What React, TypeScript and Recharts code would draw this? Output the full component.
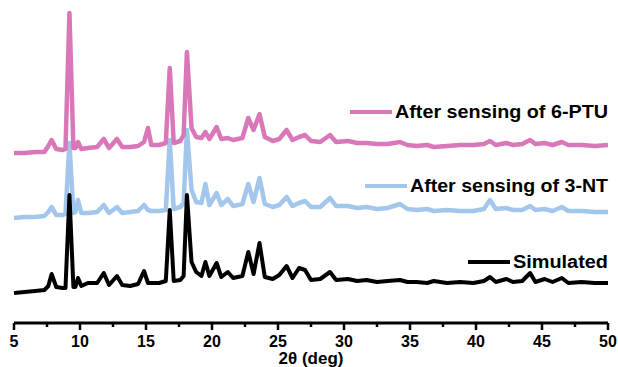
import { Line, LineChart, XAxis, YAxis } from "recharts";

// 2θ positions (deg) shared by all three patterns
const theta = [
  5.0, 5.8, 6.6, 7.3, 7.6, 7.85, 8.2, 8.7, 8.9, 9.2, 9.5, 9.65, 9.85, 10.1, 10.6, 11.3, 11.8, 12.2,
  12.8, 13.2, 13.8, 14.4, 14.85, 15.15, 15.4, 16.0, 16.5, 16.8, 17.1, 17.6, 17.85, 18.1, 18.45, 18.8,
  19.2, 19.5, 19.8, 20.35, 20.7, 21.2, 21.6, 22.3, 22.75, 23.15, 23.6, 24.0, 24.6, 25.1, 25.65, 26.1,
  26.6, 27.05, 27.5, 28.2, 28.94, 29.4, 30.3, 31.0, 31.7, 32.5, 33.3, 34.24, 34.8, 35.5, 36.3, 36.8,
  37.8, 38.8, 39.8, 40.6, 41.06, 41.5, 42.3, 42.8, 43.5, 44.1, 44.5, 45.2, 45.8, 46.5, 47.0, 48.0,
  49.0, 50.0,
];

// intensities (a.u., stacked offsets included)
const afterPtu = [
  170, 170, 171, 171, 177, 183, 174, 173, 174, 310, 175, 175, 181, 174, 175, 176, 184, 175,
  184, 176, 176, 177, 181, 195, 178, 178, 180, 255, 180, 182, 188, 271, 195, 186,
  185, 191, 184, 196, 184, 185, 183, 185, 205, 193, 209, 186, 182, 184, 193, 183,
  186, 188, 182, 181, 188, 181, 182, 180, 180, 179, 179, 181, 178, 177, 178, 176,
  177, 178, 178, 179, 182, 178, 180, 178, 179, 183, 179, 180, 178, 181, 178, 178,
  177, 178,
];

const afterNt = [
  105, 106, 106, 107, 111, 116, 108, 108, 109, 180, 110, 111, 123, 110, 110, 111, 118, 110,
  116, 110, 111, 112, 118, 113, 112, 112, 113, 183, 114, 116, 120, 193, 133, 121,
  120, 139, 118, 130, 118, 124, 117, 119, 139, 121, 145, 119, 116, 118, 126, 117,
  120, 122, 116, 116, 125, 117, 117, 115, 116, 114, 115, 119, 114, 113, 114, 112,
  113, 112, 112, 114, 123, 114, 115, 113, 113, 117, 113, 114, 112, 116, 112, 112,
  111, 111,
];

const simulated = [
  30, 31, 32, 33, 37, 49, 36, 35, 35, 128, 36, 36, 45, 37, 40, 40, 50, 38,
  47, 38, 37, 39, 52, 40, 40, 40, 42, 113, 42, 43, 47, 128, 61, 51,
  47, 61, 47, 60, 46, 51, 45, 47, 71, 49, 80, 46, 44, 48, 57, 45,
  55, 53, 43, 44, 51, 43, 44, 42, 43, 41, 42, 43, 41, 41, 40, 42,
  40, 41, 40, 42, 46, 41, 44, 41, 42, 50, 41, 44, 41, 45, 40, 41,
  40, 40,
];

const tickValues = [5, 7.5, 10, 12.5, 15, 17.5, 20, 22.5, 25, 27.5, 30, 32.5, 35, 37.5, 40, 42.5, 45, 47.5, 50];

const PINK = "#d977b8";
const BLUE = "#a3c6ec";
const BLACK = "#000000";
const FONT = "'Liberation Sans', Arial, sans-serif";

const data = theta.map((t, i) => ({
  theta: t,
  ptu: afterPtu[i],
  nt: afterNt[i],
  sim: simulated[i],
}));

// minor ticks are shorter and unlabeled
const AxisTick = (props: any) => {
  const { x, y, payload } = props;
  const major = payload.value % 5 === 0;
  return (
    <g>
      <line x1={x} x2={x} y1={y} y2={y + (major ? 7 : 4)} stroke={BLACK} strokeWidth={2.5} />
      {major && (
        <text x={x} y={y + 24} textAnchor="middle" fontSize={16} fontWeight="bold" fontFamily={FONT} fill={BLACK}>
          {payload.value}
        </text>
      )}
    </g>
  );
};

const legendItems = [
  { label: "After sensing of 6-PTU", color: PINK, lineX: 350, textX: 395, width: 213, y: 112 },
  { label: "After sensing of 3-NT", color: BLUE, lineX: 365, textX: 410, width: 198, y: 186 },
  { label: "Simulated", color: BLACK, lineX: 468, textX: 513, width: 95, y: 262 },
];

export default function App() {
  return (
    <div style={{ position: "absolute", left: 0, top: 0, width: 618, height: 367, background: "#fff" }}>
      <LineChart width={618} height={367} data={data} margin={{ top: 3, right: 10, bottom: 0, left: 14 }}>
        <XAxis
          dataKey="theta"
          type="number"
          domain={[5, 50]}
          ticks={tickValues}
          interval={0}
          height={44}
          tickSize={0}
          tickMargin={0}
          tickLine={false}
          tick={<AxisTick />}
          axisLine={{ stroke: BLACK, strokeWidth: 3 }}
          label={{
            value: "2θ (deg)",
            position: "insideBottom",
            offset: 3,
            style: { fontFamily: FONT, fontSize: 17, fontWeight: "bold", fill: BLACK },
          }}
        />
        <YAxis hide type="number" domain={[0, 320]} allowDataOverflow />
        <Line dataKey="nt" type="linear" stroke={BLUE} strokeWidth={4.5} dot={false} isAnimationActive={false} strokeLinejoin="round" />
        <Line dataKey="ptu" type="linear" stroke={PINK} strokeWidth={4.5} dot={false} isAnimationActive={false} strokeLinejoin="round" />
        <Line dataKey="sim" type="linear" stroke={BLACK} strokeWidth={4} dot={false} isAnimationActive={false} strokeLinejoin="round" />
      </LineChart>
      <svg width={618} height={367} style={{ position: "absolute", left: 0, top: 0, pointerEvents: "none" }}>
        {legendItems.map((item) => (
          <g key={item.label}>
            <line x1={item.lineX} x2={item.lineX + 42} y1={item.y} y2={item.y} stroke={item.color} strokeWidth={4} />
            <text
              x={item.textX}
              y={item.y + 6}
              fontFamily={FONT}
              fontWeight="bold"
              fontSize={18}
              textLength={item.width}
              lengthAdjust="spacingAndGlyphs"
              fill={BLACK}
            >
              {item.label}
            </text>
          </g>
        ))}
      </svg>
    </div>
  );
}
